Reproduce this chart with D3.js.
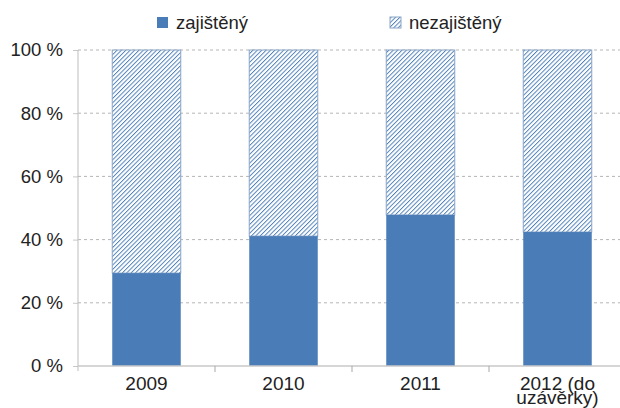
<!DOCTYPE html>
<html>
<head>
<meta charset="utf-8">
<script src="https://cdn.jsdelivr.net/npm/d3@7"></script>
<style>
  body { margin: 0; background: #fff; }
  svg { display: block; font-family: "Liberation Sans", Arial, sans-serif; }
</style>
</head>
<body>
<svg id="chart"></svg>
<script>
var width = 620;
var height = 408;
var margin = {top: 50, left: 78, right: -6, bottom: 42};

var categories = ['2009', '2010', '2011', '2012 (do uzávěrky)'];
var catLines = [['2009'], ['2010'], ['2011'], ['2012 (do', 'uzávěrky)']];
var zajisteny = [29.4, 41.1, 47.8, 42.4];
var nezajisteny = [70.6, 58.9, 52.2, 57.6];
var yTicks = [0, 20, 40, 60, 80, 100];
var seriesNames = ['zajištěný', 'nezajištěný'];

var blue = '#4a7db7';

var svg = d3.select('#chart').attr('width', width).attr('height', height);

var defs = svg.append('defs');
var pat = defs.append('pattern')
  .attr('id', 'hatch')
  .attr('patternUnits', 'userSpaceOnUse')
  .attr('width', 3.1).attr('height', 3.1)
  .attr('patternTransform', 'rotate(45)');
pat.append('rect').attr('width', 3.1).attr('height', 3.1).attr('fill', '#fff');
pat.append('line').attr('x1', 0).attr('y1', 0).attr('x2', 0).attr('y2', 3.1)
  .attr('stroke', '#4d80b9').attr('stroke-width', 1.9);

var x = d3.scaleBand()
  .domain(categories)
  .range([margin.left, width - margin.right])
  .paddingInner(0.5).paddingOuter(0.25);

var y = d3.scaleLinear().domain([0, 100]).range([height - margin.bottom, margin.top]);

// gridlines
svg.append('g').selectAll('line')
  .data(yTicks.filter(function(d){ return d > 0; }))
  .enter().append('line')
  .attr('x1', margin.left).attr('x2', width)
  .attr('y1', function(d){ return y(d); })
  .attr('y2', function(d){ return y(d); })
  .attr('stroke', '#b5b5b5')
  .attr('stroke-dasharray', '3,3');

// stacked data
var stacked = categories.map(function(c, i){
  return {cat: c, a: zajisteny[i], b: nezajisteny[i]};
});

var bars = svg.append('g');
bars.selectAll('rect.top')
  .data(stacked).enter().append('rect')
  .attr('class', 'top')
  .attr('x', function(d){ return x(d.cat); })
  .attr('width', x.bandwidth())
  .attr('y', function(d){ return y(d.a + d.b); })
  .attr('height', function(d){ return y(d.a) - y(d.a + d.b); })
  .attr('fill', 'url(#hatch)')
  .attr('stroke', '#8aa5c6').attr('stroke-width', 1);

bars.selectAll('rect.bottom')
  .data(stacked).enter().append('rect')
  .attr('class', 'bottom')
  .attr('x', function(d){ return x(d.cat); })
  .attr('width', x.bandwidth())
  .attr('y', function(d){ return y(d.a); })
  .attr('height', function(d){ return y(0) - y(d.a); })
  .attr('fill', blue);

// y axis
var yaxis = d3.axisLeft(y).tickValues(yTicks).tickSize(5).tickPadding(10)
  .tickFormat(function(d){ return d + ' %'; });
var gy = svg.append('g').attr('transform', 'translate(' + margin.left + ',0)').call(yaxis);
gy.select('.domain').remove();
gy.append('line').attr('x1', 0).attr('x2', 0)
  .attr('y1', y(100)).attr('y2', y(0) + 5).attr('stroke', '#bdbdbd');
gy.selectAll('.tick line').attr('stroke', '#c8c8c8');
gy.selectAll('.tick text').attr('fill', '#222').style('font-size', '18.5px');

// x axis
var gx = svg.append('g');
gx.append('line').attr('x1', margin.left).attr('x2', width)
  .attr('y1', y(0)).attr('y2', y(0)).attr('stroke', '#c8c8c8').attr('stroke-width', 1.5);
gx.selectAll('line.sep')
  .data(categories.slice(1)).enter().append('line')
  .attr('class', 'sep')
  .attr('x1', function(d){ return x(d) - x.step() * x.paddingInner() / 2; })
  .attr('x2', function(d){ return x(d) - x.step() * x.paddingInner() / 2; })
  .attr('y1', y(0)).attr('y2', y(0) + 6)
  .attr('stroke', '#a8a8a8');

var labels = gx.selectAll('text')
  .data(categories).enter().append('text')
  .attr('x', function(d){ return x(d) + x.bandwidth() / 2; })
  .attr('y', y(0) + 24)
  .attr('text-anchor', 'middle')
  .attr('fill', '#222')
  .style('font-size', '19px');
labels.each(function(d, i){
  var t = d3.select(this);
  catLines[i].forEach(function(p, j){
    t.append('tspan').attr('x', x(d) + x.bandwidth() / 2)
      .attr('dy', j === 0 ? 0 : 14).text(p);
  });
});

// legend
var legend = svg.append('g');
var lx = [157, 390];
seriesNames.forEach(function(name, i){
  legend.append('rect')
    .attr('x', lx[i]).attr('y', 17).attr('width', 11).attr('height', 11)
    .attr('fill', i === 0 ? blue : 'url(#hatch)')
    .attr('stroke', i === 0 ? 'none' : '#8aa5c6');
  legend.append('text')
    .attr('x', lx[i] + 19).attr('y', 29)
    .attr('fill', '#222')
    .style('font-size', '18.5px')
    .text(name);
});
</script>
</body>
</html>
